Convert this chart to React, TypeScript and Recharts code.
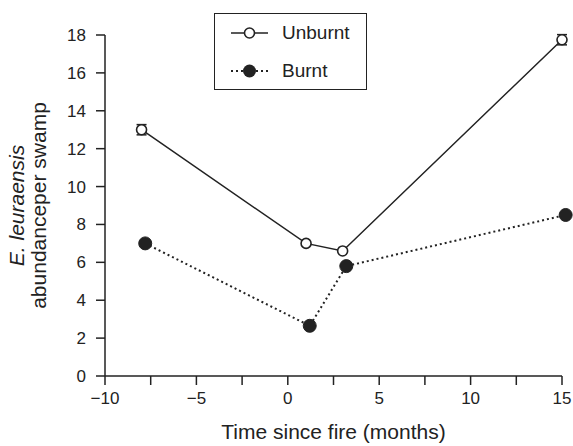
import React from "react"
import { ScatterChart, Scatter, XAxis, YAxis, ErrorBar, Legend } from "recharts"

const unburntMonths = [-8, 1, 3, 15]
const unburntAbundance = [13, 7, 6.6, 17.75]
const unburntErr = [0.27, null, null, 0.27]

const burntMonths = [-7.8, 1.2, 3.2, 15.2]
const burntAbundance = [7, 2.65, 5.8, 8.5]

const xTicks = [-10, -7.5, -5, -2.5, 0, 2.5, 5, 7.5, 10, 12.5, 15]
const yTicks = [0, 2, 4, 6, 8, 10, 12, 14, 16, 18]

const unburnt = unburntMonths.map((x, i) => ({ x, y: unburntAbundance[i], err: unburntErr[i] }))
const burnt = burntMonths.map((x, i) => ({ x, y: burntAbundance[i] }))

const INK = "#222"
const FONT = "'Liberation Sans', Arial, Helvetica, sans-serif"

const fmtX = (v: number) => {
 if (v % 5 !== 0) return ""
 return v < 0 ? `\u2212${Math.abs(v)}` : `${v}`
}

const OpenDot = (p: any) => (
 <circle cx={p.cx} cy={p.cy} r={5} fill="#fff" stroke={INK} strokeWidth={1.6} />
)
const FilledDot = (p: any) => <circle cx={p.cx} cy={p.cy} r={6.5} fill={INK} stroke={INK} />

const YTitle = (props: any) => {
 const vb = props.viewBox || { x: 0, y: 0, width: 0, height: 0 }
 const cy = vb.y + vb.height / 2
 const x1 = vb.x - 21
 const x2 = vb.x + 1
 return (
  <g fill={INK} fontFamily={FONT} fontSize={21}>
   <text x={x1} y={cy} textAnchor="middle" fontStyle="italic" transform={`rotate(-90 ${x1} ${cy})`}>
    E. leuraensis
   </text>
   <text x={x2} y={cy} textAnchor="middle" transform={`rotate(-90 ${x2} ${cy})`}>
    abundanceper swamp
   </text>
  </g>
 )
}

const LegendBox = () => {
 const row = (label: string, dashed: boolean, filled: boolean) => (
  <div style={{ display: "flex", alignItems: "center", height: 38 }}>
   <svg width={51} height={16} style={{ marginLeft: 14 }}>
    <line
     x1={2}
     x2={39}
     y1={8}
     y2={8}
     stroke={INK}
     strokeWidth={dashed ? 2 : 1.5}
     strokeDasharray={dashed ? "2 3" : undefined}
    />
    {filled ? (
     <circle cx={20.5} cy={8} r={6.5} fill={INK} />
    ) : (
     <circle cx={20.5} cy={8} r={5} fill="#fff" stroke={INK} strokeWidth={1.6} />
    )}
   </svg>
   <span style={{ fontFamily: FONT, fontSize: 19, color: INK, marginLeft: 2 }}>{label}</span>
  </div>
 )
 return (
  <div
   style={{
    boxSizing: "border-box",
    width: 153,
    height: 77,
    border: `1.5px solid ${INK}`,
    background: "#fff",
   }}>
   {row("Unburnt", false, false)}
   {row("Burnt", true, true)}
  </div>
 )
}

export default function App() {
 return (
  <div style={{ position: "absolute", left: 0, top: 0, width: 573, height: 446, background: "#fff" }}>
   <style>{`.recharts-scatter { clip-path: none !important; }`}</style>
   <ScatterChart width={573} height={446} margin={{ top: 35, right: 11, bottom: 0, left: 45 }}>
    <XAxis
     type="number"
     dataKey="x"
     domain={[-10, 15]}
     allowDataOverflow
     ticks={xTicks}
     interval={0}
     tickFormatter={fmtX}
     height={70}
     tickSize={9}
     tickMargin={7}
     stroke={INK}
     strokeWidth={1.5}
     tick={{ fill: INK, fontSize: 17, fontFamily: FONT }}
     label={{
      value: "Time since fire (months)",
      position: "insideBottom",
      offset: 7,
      fill: INK,
      fontSize: 21,
      fontFamily: FONT,
     }}
    />
    <YAxis
     type="number"
     dataKey="y"
     domain={[0, 18]}
     allowDataOverflow
     ticks={yTicks}
     interval={0}
     width={60}
     tickSize={9}
     tickMargin={10}
     stroke={INK}
     strokeWidth={1.5}
     tick={{ fill: INK, fontSize: 17, fontFamily: FONT }}
     label={{ content: YTitle }}
    />
    <Legend
     layout="horizontal"
     verticalAlign="middle"
     align="center"
     content={LegendBox}
     wrapperStyle={{ position: "absolute", left: 214, top: 13, width: 153, height: 77 }}
    />
    <Scatter
     name="Burnt"
     data={burnt}
     line={{ stroke: INK, strokeWidth: 2, strokeDasharray: "2 3" }}
     lineType="joint"
     shape={FilledDot}
     isAnimationActive={false}
    />
    <Scatter
     name="Unburnt"
     data={unburnt}
     line={{ stroke: INK, strokeWidth: 1.5 }}
     lineType="joint"
     shape={OpenDot}
     isAnimationActive={false}>
     <ErrorBar dataKey="err" direction="y" width={5} stroke={INK} strokeWidth={1.5} />
    </Scatter>
   </ScatterChart>
  </div>
 )
}
